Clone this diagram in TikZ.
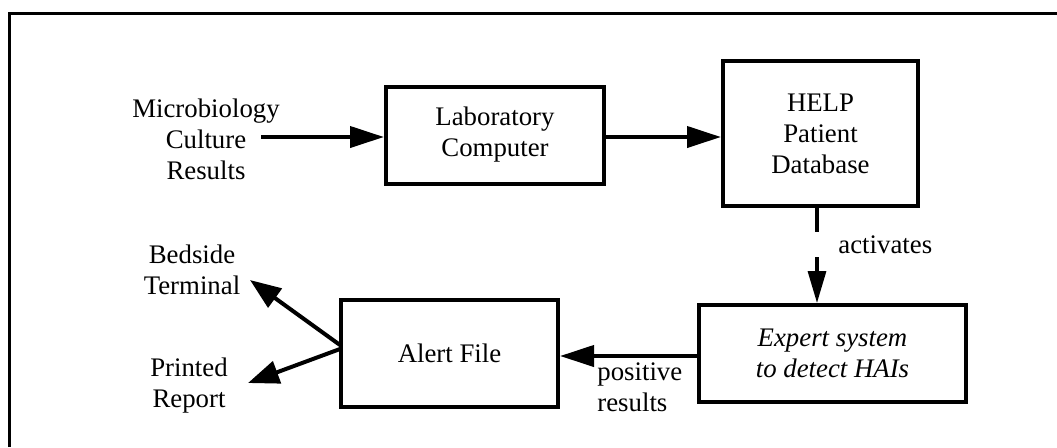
\documentclass[tikz,border=0pt]{standalone}
\usepackage{fontspec}
\setmainfont{Liberation Serif}
\usetikzlibrary{arrows.meta}
\begin{document}
\begin{tikzpicture}[x=0.5pt,y=-0.5pt,
  every node/.style={font=\fontsize{13.4}{15.5}\selectfont, align=center, inner sep=1pt},
  box/.style={draw, line width=2pt, inner sep=0pt},
  conn/.style={line width=2pt, -{Triangle[length=17pt,width=10.5pt]}},
  outconn/.style={line width=2pt, -{Triangle[length=15.5pt,width=11.5pt]}},
  dconn/.style={line width=1.6pt, dash pattern=on 12pt off 12.5pt on 60pt, -{Triangle[length=16pt,width=9pt]}},
  frame/.style={line width=1.5pt}]
\useasboundingbox (0,0) rectangle (1057,447);
% frame
\coordinate (fbl) at (9,447);
\coordinate (ftl) at (9,13);
\coordinate (ftr) at (1057,13);
\draw[frame] (fbl) -- (ftl) -- (ftr);
% nodes
\node (micro) at (206,139) {Microbiology\\Culture\\Results};
\node[box, minimum width=109pt, minimum height=48.5pt] (lab) at (495,135) {Laboratory\\Computer};
\node[box, minimum width=97.5pt, minimum height=72.5pt] (help) at (820.5,133.5) {HELP\\Patient\\Database};
\node[box, minimum width=133.5pt, minimum height=48.5pt, font=\fontsize{13.4}{15.5}\selectfont\itshape] (expert) at (832.5,353.5) {Expert system\\to detect HAIs};
\node[box, minimum width=108.5pt, minimum height=53.5pt] (alert) at (449.5,353.5) {Alert File};
\node (bedside) at (192,270) {Bedside\\Terminal};
\node (printed) at (189,386) {Printed\\Report};
\node[anchor=west] (activates) at (836,245) {activates};
\node[anchor=west, align=left] (positive) at (595,387) {positive\\results};
% connector helper coordinates
\coordinate (src) at (261,137);
\coordinate (dx) at (817,0);
\coordinate (tterm) at (250,280);
\coordinate (tprint) at (248,383);
\coordinate (aup) at (340,345);
\coordinate (alow) at (340,349);
% connectors
\draw[conn] (src) -- (src -| lab.west);
\draw[conn] (lab.east |- src) -- (help.west |- src);
\draw[dconn] (help.south -| dx) -- (expert.north -| dx);
\draw[conn] (expert.west |- 0,356) -- (alert.east |- 0,356);
\draw[outconn] (aup) -- (tterm);
\draw[outconn] (alow) -- (tprint);
\end{tikzpicture}
\end{document}
